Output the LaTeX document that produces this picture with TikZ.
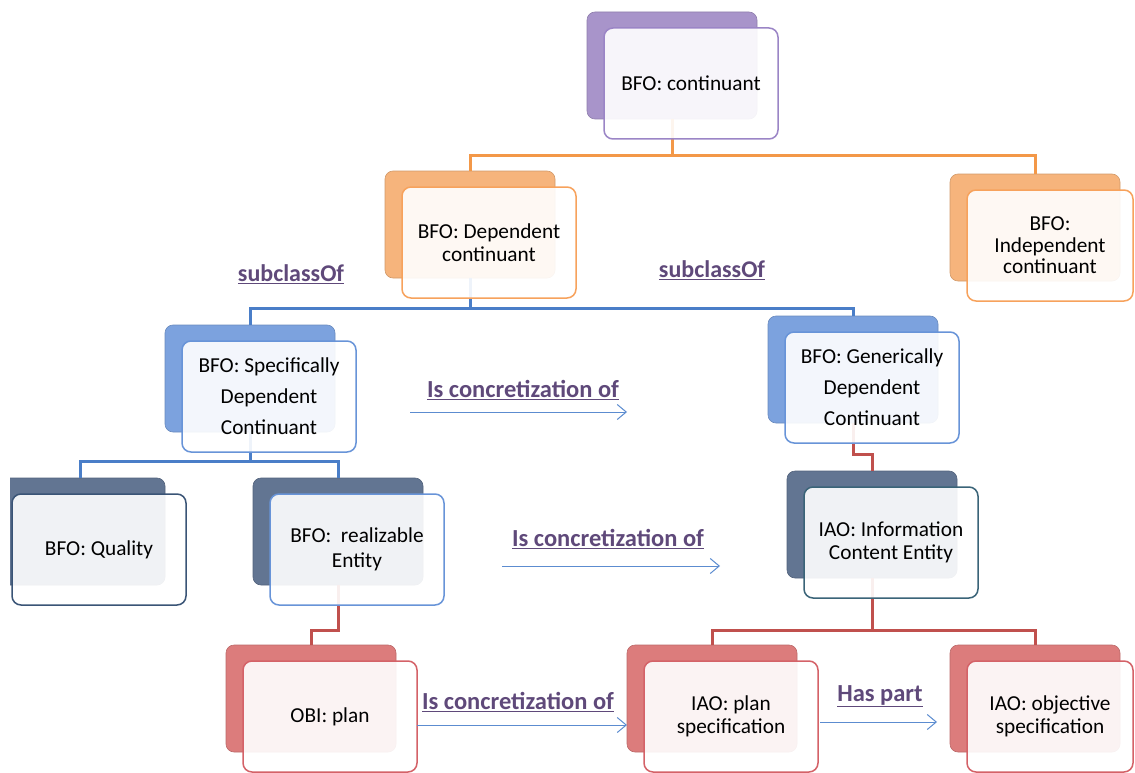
\documentclass[tikz,border=0pt]{standalone}
\usepackage{fontspec}
\setmainfont{Carlito}
\usetikzlibrary{arrows.meta,calc}

% palette
\definecolor{purpleBack}{RGB}{168,148,202}
\definecolor{purpleEdge}{RGB}{155,133,198}
\definecolor{orangeBack}{RGB}{246,180,124}
\definecolor{orangeEdge}{RGB}{247,162,92}
\definecolor{orangeWire}{RGB}{243,152,72}
\definecolor{blueBack}{RGB}{124,162,222}
\definecolor{blueEdge}{RGB}{104,148,216}
\definecolor{blueWire}{RGB}{74,126,200}
\definecolor{slateBack}{RGB}{98,117,146}
\definecolor{slateEdge}{RGB}{58,84,118}
\definecolor{tealEdge}{RGB}{58,100,120}
\definecolor{redBack}{RGB}{220,124,124}
\definecolor{redEdge}{RGB}{212,98,104}
\definecolor{redWire}{RGB}{192,80,77}
\definecolor{relBlue}{RGB}{92,140,208}
\definecolor{relText}{RGB}{95,73,122}

\begin{document}
\begin{tikzpicture}[x=1pt,y=-1pt,
  backbox/.style={anchor=north west, minimum width=170pt, minimum height=107pt,
    inner sep=0pt, outer sep=0pt, rounded corners=8pt, fill=#1Back, draw=#1Back!85!black, line width=0.6pt},
  frontbox/.style={anchor=north west, minimum width=174pt, minimum height=111pt,
    inner sep=4pt, outer sep=0pt, rounded corners=9pt, line width=1.5pt, draw=#1,
    fill=white, fill opacity=0.91, text opacity=1, align=center,
    font=\fontsize{21.3}{23}\selectfont},
  wire/.style={line width=3pt, draw=#1},
  relation/.style={draw=relBlue, line width=1pt, -{Straight Barb[length=9pt,width=15pt]}},
  rellabel/.style={text=relText, font=\fontsize{24.5}{28}\selectfont\bfseries, inner sep=0pt},
  sublabel/.style={text=relText, font=\fontsize{24}{28}\selectfont\bfseries, inner sep=0pt}
]
\useasboundingbox (0,0) rectangle (1135,773);
\clip (0,0) rectangle (1135,773);

% ---- back tiles
\node[backbox=purple] (contB)  at (587,12)  {};
\node[backbox=orange] (depB)   at (385,171) {};
\node[backbox=orange] (indB)   at (950,174) {};
\node[backbox=blue]   (sdcB)   at (165,325) {};
\node[backbox=blue]   (gdcB)   at (768,316) {};
\begin{scope}
  \clip (10,0) rectangle (1135,773);
  \node[backbox=slate] (qualB) at (-5,478) {};
\end{scope}
\node[backbox=slate]  (realB)  at (253,478) {};
\node[backbox=slate]  (iceB)   at (787,471) {};
\node[backbox=red]    (obiB)   at (226,645) {};
\node[backbox=red]    (pspecB) at (627,645) {};
\node[backbox=red]    (objB)   at (950,645) {};

% ---- hierarchy wires (behind the front cards)
\draw[wire=orangeWire] (contB.south) -- ++(0,37) -| (depB.north);
\draw[wire=orangeWire] (contB.south) -- ++(0,37) -| (indB.north);
\draw[wire=blueWire] (depB.south) -- ++(0,30) -| (sdcB.north);
\draw[wire=blueWire] (depB.south) -- ++(0,30) -| (gdcB.north);
\draw[wire=blueWire] (sdcB.south) -- ++(0,29) -| (qualB.north);
\draw[wire=blueWire] (sdcB.south) -- ++(0,29) -| (realB.north);
\draw[wire=redWire] (gdcB.south) -- ++(0,31) -| (iceB.north);
\draw[wire=redWire] (realB.south) -- ++(0,45) -| (obiB.north);
\draw[wire=redWire] (iceB.south) -- ++(0,52) -| (pspecB.north);
\draw[wire=redWire] (iceB.south) -- ++(0,52) -| (objB.north);

% ---- front cards
\node[frontbox=purpleEdge] (cont) at (604,28) {BFO: continuant};
\node[frontbox=orangeEdge] (dep)  at (402,187) {BFO: Dependent\\continuant};
\node[frontbox=orangeEdge, minimum width=166pt, font=\fontsize{21.3}{21.5}\selectfont] (ind) at (967,190) {BFO:\\Independent\\continuant};
\node[frontbox=blueEdge, font=\fontsize{21.3}{31}\selectfont] (sdc) at (182,341) {BFO: Specifically\\Dependent\\Continuant};
\node[frontbox=blueEdge, font=\fontsize{21.3}{31}\selectfont] (gdc) at (785,332) {BFO: Generically\\Dependent\\Continuant};
\node[frontbox=slateEdge] (qual) at (12,494) {BFO: Quality};
\node[frontbox=blueEdge, font=\fontsize{21.3}{25}\selectfont] (real) at (270,494) {BFO:\ \ realizable\\Entity};
\node[frontbox=tealEdge] (ice) at (804,487) {IAO: Information\\Content Entity};
\node[frontbox=redEdge] (obi) at (243,661) {OBI: plan};
\node[frontbox=redEdge] (pspec) at (644,661) {IAO: plan\\specification};
\node[frontbox=redEdge, minimum width=166pt] (obj) at (967,661) {IAO: objective\\specification};

% ---- relation arrows
\coordinate (r1s) at (410,412);
\coordinate (r1e) at (627,412);
\draw[relation] (r1s) -- (r1e);
\node[rellabel] (l1) at (523,390) {\underline{Is concretization of}};

\coordinate (r2s) at (502,566);
\coordinate (r2e) at (720,566);
\draw[relation] (r2s) -- (r2e);
\node[rellabel] (l2) at (608,539) {\underline{Is concretization of}};

\draw[relation] ($(obi.east)+(0,8.5)$) coordinate (r3s) -- (r3s -| pspecB.west);
\node[rellabel] (l3) at (518,702) {\underline{Is concretization of}};

\draw[relation] ($(pspec.east)+(2,5.5)$) coordinate (r4s) -- ($(r4s -| objB.west)+(-13,0)$);
\node[rellabel] (l4) at (880,696) {\underline{Has part}};

% ---- subclass labels
\node[sublabel] (s1) at (291,274) {\underline{subclassOf}};
\node[sublabel] (s2) at (712,270) {\underline{subclassOf}};
\end{tikzpicture}
\end{document}
